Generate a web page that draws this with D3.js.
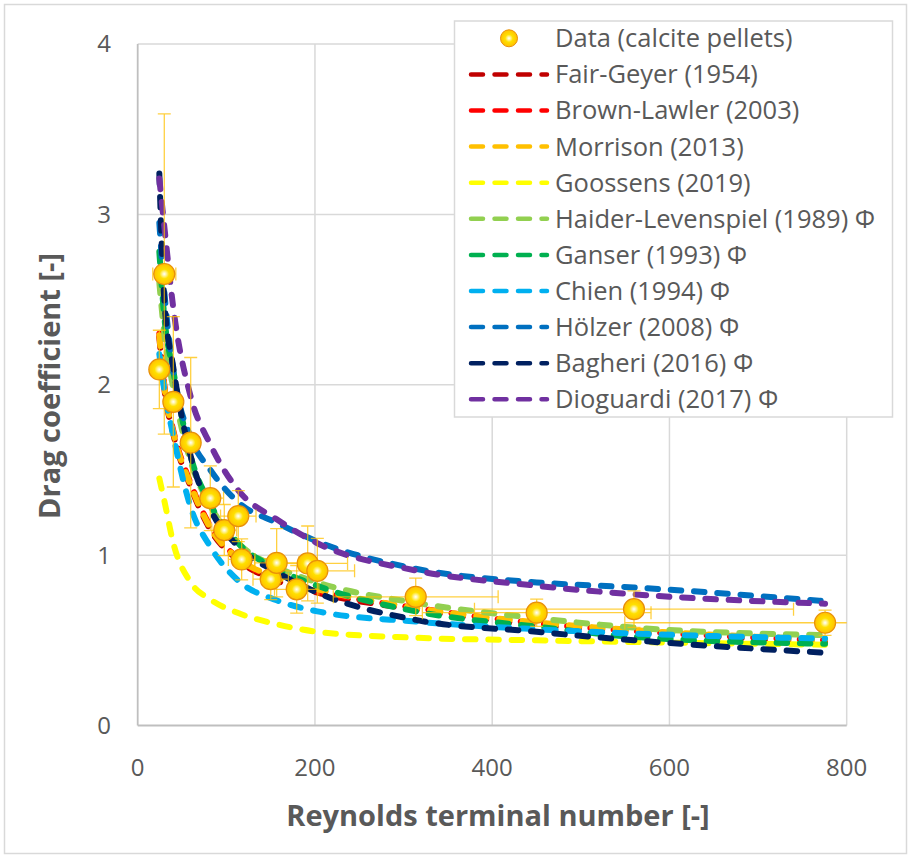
<!DOCTYPE html>
<html lang="en">
<head>
<meta charset="UTF-8">
<title>Drag coefficient vs Reynolds number</title>
<script src="https://cdn.jsdelivr.net/npm/d3@7"></script>
<style>
  body { margin: 0; background: #fff; }
  text { font-family: "Open Sans", Lato, sans-serif; fill: #595959; }
</style>
</head>
<body>
<script>
  // measured points (calcite pellets)
  const dataRe = [24.4, 30.0, 40.2, 59.8, 81.9, 97.7, 113.5, 117.3, 150.1, 156.8, 179.4, 191.8, 202.7, 313.7, 450.2, 560, 775.6];
  const dataCd = [2.09, 2.65, 1.90, 1.66, 1.334, 1.147, 1.229, 0.975, 0.859, 0.955, 0.799, 0.951, 0.908, 0.755, 0.662, 0.683, 0.603];
  const errRe = [5, 13, 8, 10, 15, 14, 20, 15, 20, 25, 25, 45, 42, 93, 129, 180, 226];
  const errCd = [0.23, 0.94, 0.50, 0.50, 0.19, 0.15, 0.15, 0.12, 0.12, 0.20, 0.14, 0.22, 0.19, 0.11, 0.08, 0.107, 0.074];

  // model curves, read at these Re values
  const reGrid = [24.4, 30, 40.2, 59.8, 81.9, 113.5, 156.8, 202.7, 313.7, 450.2, 560, 775.6];
  const fairGeyer   = [2.28, 1.98, 1.71, 1.40, 1.15, 0.97, 0.85, 0.78, 0.68, 0.59, 0.55, 0.49];
  const brownLawler = [2.30, 2.00, 1.73, 1.42, 1.17, 0.98, 0.86, 0.79, 0.69, 0.60, 0.555, 0.50];
  const morrison    = [2.29, 1.99, 1.72, 1.41, 1.16, 0.98, 0.87, 0.80, 0.69, 0.605, 0.56, 0.505];
  const goossens    = [1.45, 1.32, 1.07, 0.84, 0.74, 0.66, 0.595, 0.55, 0.515, 0.50, 0.49, 0.474];
  const haider      = [2.60, 2.30, 1.98, 1.55, 1.29, 1.07, 0.93, 0.84, 0.72, 0.63, 0.575, 0.53];
  const ganser      = [2.78, 2.40, 2.08, 1.58, 1.30, 1.07, 0.92, 0.82, 0.67, 0.58, 0.52, 0.48];
  const chien       = [2.18, 1.97, 1.70, 1.28, 1.05, 0.85, 0.735, 0.67, 0.61, 0.565, 0.54, 0.51];
  const holzer      = [2.95, 2.55, 2.08, 1.69, 1.50, 1.31, 1.19, 1.08, 0.92, 0.84, 0.81, 0.73];
  const bagheri     = [3.24, 2.50, 2.10, 1.58, 1.27, 1.05, 0.90, 0.78, 0.62, 0.55, 0.50, 0.427];
  const dioguardi   = [3.21, 2.93, 2.45, 1.93, 1.65, 1.38, 1.21, 1.07, 0.91, 0.82, 0.77, 0.715];

  const modelNames = ["Fair-Geyer (1954)", "Brown-Lawler (2003)", "Morrison (2013)", "Goossens (2019)",
    "Haider-Levenspiel (1989) \u03A6", "Ganser (1993) \u03A6", "Chien (1994) \u03A6", "H\u00F6lzer (2008) \u03A6",
    "Bagheri (2016) \u03A6", "Dioguardi (2017) \u03A6"];
  const modelColors = ["#C00000", "#FF0000", "#FFC000", "#FFFF00", "#92D050", "#00B050", "#00B0F0", "#0070C0", "#002060", "#7030A0"];
  const modelValues = [fairGeyer, brownLawler, morrison, goossens, haider, ganser, chien, holzer, bagheri, dioguardi];

  const xTicks = [0, 200, 400, 600, 800];
  const yTicks = [0, 1, 2, 3, 4];

  const width = 911, height = 858;
  const plotLeft = 137.7, plotRight = 846.7, plotTop = 44, plotBottom = 725.5;

  const x = d3.scaleLinear().domain([0, 800]).range([plotLeft, plotRight]);
  const y = d3.scaleLinear().domain([0, 4]).range([plotBottom, plotTop]);

  const svg = d3.select("body").append("svg")
    .attr("width", width)
    .attr("height", height);

  // outer chart border
  svg.append("rect")
    .attr("x", 4.5).attr("y", 4.5)
    .attr("width", width - 9).attr("height", height - 9)
    .attr("fill", "#fff")
    .attr("stroke", "#D9D9D9")
    .attr("stroke-width", 1.5);

  const defs = svg.append("defs");
  defs.append("clipPath").attr("id", "plotClip")
    .append("rect")
    .attr("x", plotLeft).attr("y", plotTop)
    .attr("width", plotRight - plotLeft).attr("height", plotBottom - plotTop);

  const grad = defs.append("radialGradient").attr("id", "ball");
  grad.append("stop").attr("offset", "0%").attr("stop-color", "#FFFFFF");
  grad.append("stop").attr("offset", "18%").attr("stop-color", "#FFF4A0");
  grad.append("stop").attr("offset", "45%").attr("stop-color", "#FFE000");
  grad.append("stop").attr("offset", "100%").attr("stop-color", "#FFC000");

  // gridlines
  svg.append("g").selectAll("line")
    .data(yTicks.slice(1))
    .join("line")
    .attr("x1", plotLeft).attr("x2", plotRight)
    .attr("y1", d => y(d)).attr("y2", d => y(d))
    .attr("stroke", "#D9D9D9").attr("stroke-width", 1.5);

  svg.append("g").selectAll("line")
    .data(xTicks.slice(1))
    .join("line")
    .attr("x1", d => x(d)).attr("x2", d => x(d))
    .attr("y1", plotTop).attr("y2", plotBottom)
    .attr("stroke", "#D9D9D9").attr("stroke-width", 1.5);

  // axis lines
  svg.append("line")
    .attr("x1", plotLeft).attr("x2", plotRight).attr("y1", plotBottom).attr("y2", plotBottom)
    .attr("stroke", "#BFBFBF").attr("stroke-width", 1.8);
  svg.append("line")
    .attr("x1", plotLeft).attr("x2", plotLeft).attr("y1", plotTop).attr("y2", plotBottom)
    .attr("stroke", "#BFBFBF").attr("stroke-width", 1.8);

  // tick labels
  svg.append("g").selectAll("text")
    .data(yTicks)
    .join("text")
    .attr("x", 111)
    .attr("y", d => y(d))
    .attr("dy", "0.35em")
    .attr("text-anchor", "end")
    .attr("font-size", 24)
    .text(d => d);

  svg.append("g").selectAll("text")
    .data(xTicks)
    .join("text")
    .attr("x", d => x(d))
    .attr("y", 768)
    .attr("dy", "0.35em")
    .attr("text-anchor", "middle")
    .attr("font-size", 24)
    .text(d => d);

  // axis titles
  svg.append("text")
    .attr("x", 498).attr("y", 816)
    .attr("dy", "0.35em")
    .attr("text-anchor", "middle")
    .attr("font-size", 29)
    .attr("font-weight", "bold")
    .text("Reynolds terminal number [-]");

  svg.append("text")
    .attr("transform", "translate(50," + 386 + ") rotate(-90)")
    .attr("dy", "0.35em")
    .attr("text-anchor", "middle")
    .attr("font-size", 29)
    .attr("font-weight", "bold")
    .text("Drag coefficient [-]");

  const plot = svg.append("g").attr("clip-path", "url(#plotClip)");

  // model curves
  const line = d3.line()
    .x(d => x(d[0]))
    .y(d => y(d[1]))
    .curve(d3.curveMonotoneX);

  modelValues.forEach(function (vals, k) {
    plot.append("path")
      .datum(reGrid.map((r, i) => [r, vals[i]]))
      .attr("d", line)
      .attr("fill", "none")
      .attr("stroke", modelColors[k])
      .attr("stroke-width", 6)
      .attr("stroke-linecap", "round")
      .attr("stroke-dasharray", "10.5,12.8");
  });

  // error bars
  const points = dataRe.map((r, i) => ({ re: r, cd: dataCd[i], ex: errRe[i], ey: errCd[i] }));
  const cap = 6.5;
  const eb = plot.append("g")
    .attr("stroke", "#FFC000")
    .attr("stroke-opacity", 0.75)
    .attr("stroke-width", 1.3)
    .attr("fill", "none");

  points.forEach(function (p) {
    const cx = x(p.re), cy = y(p.cd);
    const x0 = x(p.re - p.ex), x1 = x(p.re + p.ex);
    const y0 = y(p.cd - p.ey), y1 = y(p.cd + p.ey);
    eb.append("path").attr("d",
      "M" + x0 + "," + cy + "H" + x1 +
      "M" + x0 + "," + (cy - cap) + "V" + (cy + cap) +
      "M" + x1 + "," + (cy - cap) + "V" + (cy + cap) +
      "M" + cx + "," + y0 + "V" + y1 +
      "M" + (cx - cap) + "," + y0 + "H" + (cx + cap) +
      "M" + (cx - cap) + "," + y1 + "H" + (cx + cap));
  });

  // markers
  plot.append("g").selectAll("circle")
    .data(points)
    .join("circle")
    .attr("cx", d => x(d.re))
    .attr("cy", d => y(d.cd))
    .attr("r", 10.5)
    .attr("fill", "url(#ball)")
    .attr("stroke", "#E8900A")
    .attr("stroke-width", 1.2);

  // legend
  const lg = svg.append("g");
  lg.append("rect")
    .attr("x", 454.5).attr("y", 21)
    .attr("width", 438).attr("height", 396)
    .attr("fill", "#fff")
    .attr("stroke", "#D9D9D9")
    .attr("stroke-width", 1.5);

  const rowY = i => 38.3 + i * 36.1;

  lg.append("circle")
    .attr("cx", 509).attr("cy", rowY(0))
    .attr("r", 8.5)
    .attr("fill", "url(#ball)")
    .attr("stroke", "#E8900A")
    .attr("stroke-width", 1);
  lg.append("text")
    .attr("x", 555).attr("y", rowY(0))
    .attr("dy", "0.35em")
    .attr("font-size", 25.5)
    .text("Data (calcite pellets)");

  modelNames.forEach(function (name, k) {
    const yy = rowY(k + 1);
    lg.append("line")
      .attr("x1", 471).attr("x2", 547)
      .attr("y1", yy).attr("y2", yy)
      .attr("stroke", modelColors[k])
      .attr("stroke-width", 4.5)
      .attr("stroke-linecap", "round")
      .attr("stroke-dasharray", "12,11.5");
    lg.append("text")
      .attr("x", 555).attr("y", yy)
      .attr("dy", "0.35em")
      .attr("font-size", 25.5)
      .text(name);
  });
</script>
</body>
</html>
